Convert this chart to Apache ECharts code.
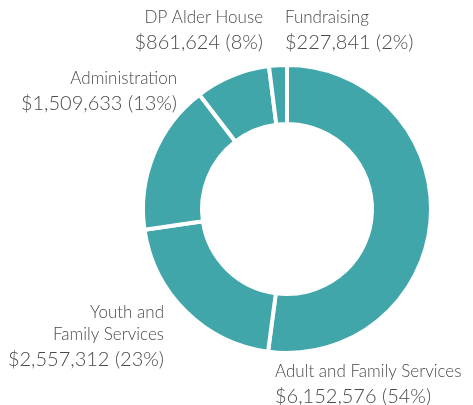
<!DOCTYPE html>
<html>
<head>
<meta charset="utf-8">
<script src="https://cdn.jsdelivr.net/npm/echarts@6/dist/echarts.min.js"></script>
<style>
  html, body { margin: 0; padding: 0; background: #fff; }
  #chart { width: 473px; height: 405px; }
</style>
</head>
<body>
<div id="chart"></div>
<script>
var categories = ['Adult and Family Services', 'Youth and\nFamily Services', 'Administration', 'DP Alder House', 'Fundraising'];
// dollar amounts and percentages as printed in the labels
var amounts = [6152576, 2557312, 1509633, 861624, 227841];
var printedPercents = [54, 23, 13, 8, 2];
// slice sizes as drawn in the picture (share of the ring, %)
var sliceShares = [52.1, 20.6, 16.9, 8.4, 2.0];

// label anchors (x, top y, align) for each slice, same order as categories
var labelSpots = [
  [275, 361, 'left'],
  [164, 302, 'right'],
  [177, 68, 'right'],
  [263, 7, 'right'],
  [285, 7, 'left']
];

var myChart = echarts.init(document.getElementById('chart'));

var pieData = [];
for (var i = 0; i < categories.length; i++) {
  pieData.push({ name: categories[i], value: sliceShares[i], amount: amounts[i], pct: printedPercents[i] });
}

var option = {
  animation: false,
  series: [{
    type: 'pie',
    center: [287, 209],
    radius: [85, 144],
    startAngle: 90,
    clockwise: true,
    silent: true,
    avoidLabelOverlap: false,
    itemStyle: {
      color: '#40a6a9',
      borderColor: '#ffffff',
      borderWidth: 4
    },
    label: {
      show: true,
      position: 'outside',
      overflow: 'none',
      alignTo: 'none',
      fontFamily: 'Lato',
      color: '#4a4a4a',
      formatter: function (p) {
        var money = '$' + p.data.amount.toLocaleString('en-US');
        return '{a|' + p.name + '}\n{b|' + money + ' (' + p.data.pct + '%)}';
      },
      rich: {
        a: { fontSize: 17, lineHeight: 22, fontFamily: 'Lato', fontWeight: 300, color: '#4a4a4a' },
        b: { fontSize: 20, lineHeight: 28, fontFamily: 'Lato', fontWeight: 300, color: '#4a4a4a' }
      }
    },
    labelLine: { show: false },
    labelLayout: function (params) {
      var s = labelSpots[params.dataIndex];
      return { x: s[0], y: s[1], align: s[2], verticalAlign: 'top', hideOverlap: false, moveOverlap: false };
    },
    data: pieData
  }]
};

myChart.setOption(option);
</script>
</body>
</html>
